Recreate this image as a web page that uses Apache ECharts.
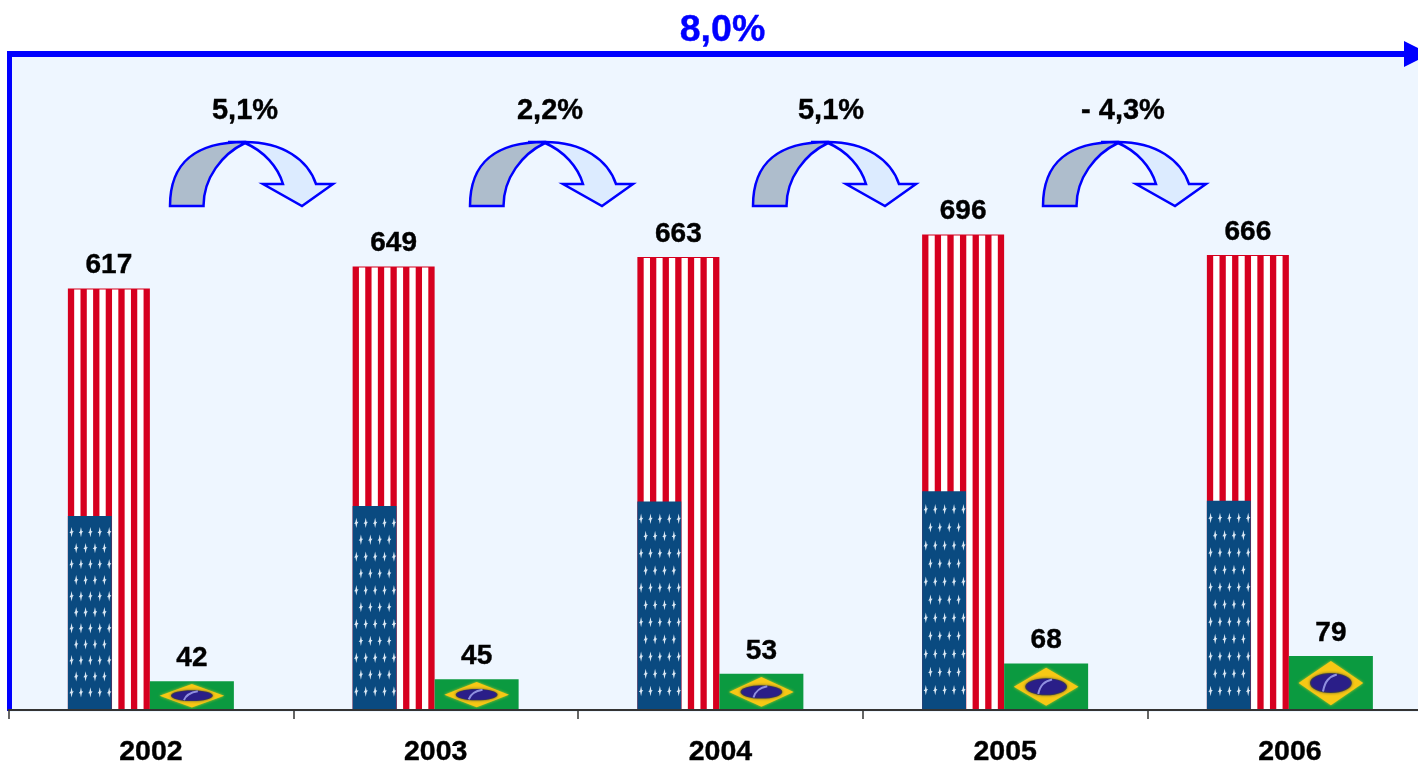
<!DOCTYPE html>
<html><head><meta charset="utf-8">
<style>html,body{margin:0;padding:0;background:#fff}#c{width:1418px;height:762px}</style>
<script src="https://cdn.jsdelivr.net/npm/echarts@6/dist/echarts.min.js"></script>
</head><body><div id="c"></div>
<script>
const categories = ['2002','2003','2004','2005','2006'];
const usValues = [617,649,663,696,666];
const brValues = [42,45,53,68,79];
const growthLabels = ['5,1%','2,2%','5,1%','- 4,3%'];
const growthLabelCenters = [245,550,831,1123];
const growthArrowLefts = [170,470,753,1043];
const totalLabel = '8,0%';

const FONT = '"Liberation Sans", Arial, sans-serif';
const US_W = 82, BR_W = 84, SPLIT = (BR_W-US_W)/2, CANTON_H = 0.46, CANTON_W = 0.535;
const RED='#D6001F', WHITE='#FFFFFF', NAVY='#0A4A80', GREEN='#0B9A40', YELLOW='#F7C815', ORB='#2A1E88', SW='#0000FF';

function star(cx, cy) {
  const a=2.2,b=5.2,c=.9;
  return {type:'polygon',silent:true,shape:{points:[[cx,cy-b],[cx+c,cy-c],[cx+a,cy-1],[cx+c,cy+c],[cx,cy+b],[cx-c,cy+c],[cx-a,cy+1],[cx-c,cy-c]]},style:{fill:'#DCE9F4'}};
}
function renderUS(params, api) {
  const i = api.value(0), v = api.value(1);
  const base = api.coord([i,0]), top = api.coord([i,v]);
  const x0 = base[0]-SPLIT-US_W, y0 = top[1], h = base[1]-top[1];
  const kids = [];
  const sw = US_W/13;
  for (let k=1;k<13;k+=2) kids.push({type:'rect',silent:true,shape:{x:x0+k*sw,y:y0+1,width:sw,height:h-1},style:{fill:WHITE}});
  const ch = h*CANTON_H, cw = US_W*CANTON_W, cy = base[1]-ch;
  kids.push({type:'rect',silent:true,shape:{x:x0,y:cy,width:cw,height:ch},style:{fill:NAVY}});
  const rowGap = ch/12.1;
  for (let r=0;r<11;r++) {
    const y = cy+(r+1)*rowGap;
    const n = r%2===0?5:4;
    for (let s=0;s<n;s++) {
      const fx = r%2===0 ? 3.7+s*9.4 : 8.3+s*9.4;
      kids.push(star(x0+fx,y));
    }
  }
  return {type:'group',children:kids};
}
function renderBR(params, api) {
  const i = api.value(0), v = api.value(1);
  const base = api.coord([i,0]), top = api.coord([i,v]);
  const x0 = base[0]-SPLIT, y0 = top[1], h = base[1]-top[1], w = BR_W;
  const cx = x0+w/2, cy = y0+h/2;
  const dw = w*0.385, dh = h*0.41;
  const rx = w*0.235, ry = h*0.165;
  return {type:'group',children:[
    {type:'polygon',silent:true,shape:{points:[[cx-dw,cy],[cx,cy-dh],[cx+dw,cy],[cx,cy+dh]]},style:{fill:YELLOW,shadowBlur:3,shadowColor:'#C8C820'}},
    {type:'ellipse',silent:true,shape:{cx:cx,cy:cy,rx:rx*1.06,ry:ry*1.12},style:{fill:'#3A3A50',shadowBlur:3,shadowColor:'#5A5A30'}},
    {type:'ellipse',silent:true,shape:{cx:cx,cy:cy,rx:rx,ry:ry},style:{fill:ORB}},
    {type:'bezierCurve',silent:true,shape:{x1:cx-rx*.4,y1:cy+ry*.95,x2:cx+rx*.3,y2:cy-ry*.95,cpx1:cx-rx*.3,cpy1:cy-ry*.2,cpx2:cx-rx*.1,cpy2:cy-ry*.7},style:{stroke:'#9090E0',lineWidth:2,fill:null}}
  ]};
}
const ARROW_TOP = 142;
function renderArrow(params, api) {
  const left = api.value(0);
  return {type:'group',children:[
    {type:'path',silent:true,shape:{pathData:'M0,0 L17,0 C55,0 80,18 88,42 L105,42 L74,64 L35,42 L55,42 C50,25 36,9 17,1 C12,0 6,0 0,0 Z',x:left+58,y:ARROW_TOP,width:105,height:64,layout:'cover'},style:{fill:'#DCEBFF',stroke:SW,lineWidth:2.5,lineJoin:'miter'}},
    {type:'path',silent:true,shape:{pathData:'M0,64 C0,18 28,0 75,0 L75,1 C52,12 33.5,36 33.5,64 Z',x:left,y:ARROW_TOP,width:75,height:64,layout:'cover'},style:{fill:'#AEBDCC',stroke:SW,lineWidth:2.5,lineJoin:'miter'}}
  ]};
}
const graphicEls = [
  {type:'rect',z:-1,shape:{x:9,y:54,width:1409,height:658},style:{fill:'#EEF6FF'}},
  {type:'rect',z:1,shape:{x:7,y:51,width:1400,height:6},style:{fill:SW}},
  {type:'rect',z:1,shape:{x:7,y:51,width:5,height:660},style:{fill:SW}},
  {type:'polygon',z:1,shape:{points:[[1404,41],[1430,54],[1404,67]]},style:{fill:SW}},
  {type:'text',z:1,style:{text:totalLabel,x:722.5,y:31,align:'center',verticalAlign:'middle',font:'bold 37.5px '+FONT,fill:SW,stroke:SW,lineWidth:.4}}
];
growthLabels.forEach((t,i)=>graphicEls.push({type:'text',z:1,style:{text:t,x:growthLabelCenters[i],y:111,align:'center',verticalAlign:'middle',font:'bold 29px '+FONT,fill:'#000',stroke:'#000',lineWidth:.4}}));

const labelStyle = {show:true,position:'top',distance:9,fontFamily:FONT,fontWeight:'bold',fontSize:28,color:'#000',textBorderColor:'#000',textBorderWidth:.4};
const chart = echarts.init(document.getElementById('c'),null,{renderer:'canvas'});
chart.setOption({
  animation:false,
  backgroundColor:'#fff',
  grid:{left:8.5,top:54,width:1423.75,height:656,containLabel:false,outerBoundsMode:'none'},
  xAxis:{type:'category',data:categories,z:5,
    axisLine:{lineStyle:{color:'#333',width:2}},
    axisTick:{show:true,length:9,lineStyle:{color:'#333',width:1.5}},
    axisLabel:{margin:28,fontFamily:FONT,fontWeight:'bold',fontSize:28.5,color:'#000',interval:0,textBorderColor:'#000',textBorderWidth:.4}},
  yAxis:{type:'value',min:0,max:960,show:false,splitLine:{show:false}},
  graphic:{elements:graphicEls},
  series:[
    {name:'EUA',type:'bar',data:usValues,barWidth:US_W,barGap:0,itemStyle:{color:RED},label:labelStyle,silent:true},
    {name:'Brasil',type:'bar',data:brValues,barWidth:BR_W,barGap:0,itemStyle:{color:GREEN},label:labelStyle,silent:true},
    {name:'EUA bandeira',type:'custom',data:usValues.map((v,i)=>[i,v]),encode:{x:0,y:1},renderItem:renderUS,z:3,silent:true,clip:false},
    {name:'Brasil bandeira',type:'custom',data:brValues.map((v,i)=>[i,v]),encode:{x:0,y:1},renderItem:renderBR,z:3,silent:true,clip:false},
    {name:'Setas',type:'custom',coordinateSystem:'none',data:growthArrowLefts.map(v=>[v]),renderItem:renderArrow,z:3,silent:true}
  ]
});
</script></body></html>
